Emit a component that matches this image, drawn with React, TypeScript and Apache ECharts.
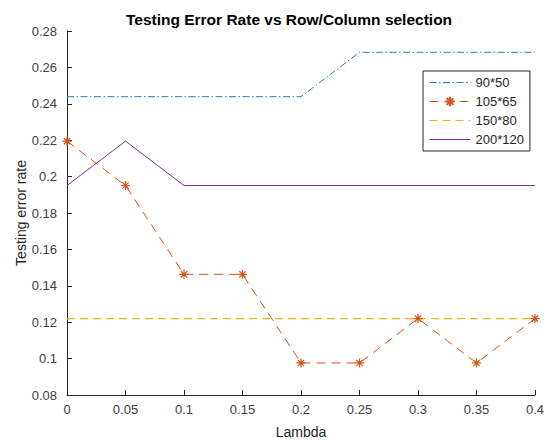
import React, { useEffect, useRef } from "react";
import * as echarts from "echarts";

const lambdas = [0, 0.05, 0.1, 0.15, 0.2, 0.25, 0.3, 0.35, 0.4];
const s90x50 = [0.2439, 0.2439, 0.2439, 0.2439, 0.2439, 0.2683, 0.2683, 0.2683, 0.2683];
const s105x65 = [0.2195, 0.1951, 0.1463, 0.1463, 0.0976, 0.0976, 0.122, 0.0976, 0.122];
const s150x80 = [0.122, 0.122, 0.122, 0.122, 0.122, 0.122, 0.122, 0.122, 0.122];
const s200x120 = [0.1951, 0.2195, 0.1951, 0.1951, 0.1951, 0.1951, 0.1951, 0.1951, 0.1951];
const seriesNames = ["90*50", "105*65", "150*80", "200*120"];

const pair = (ys: number[]) => lambdas.map((x, i) => [x, ys[i]]);

const AST = "path://M5,0 L5,10 M0,5 L10,5 M1.5,1.5 L8.5,8.5 M1.5,8.5 L8.5,1.5";
const FONT = "Liberation Sans, Arial, sans-serif";
const BLUE = "#1a82b4";
const ORANGE = "#D95319";
const YELLOW = "#EDB120";
const PURPLE = "#7E2F8E";

export default function App() {
  const ref = useRef<HTMLDivElement>(null);
  useEffect(() => {
    const chart = echarts.init(ref.current!, null, { renderer: "svg" });
    const hidden = { color: "transparent", borderColor: "transparent", borderWidth: 0 };
    chart.setOption({
      animation: false,
      backgroundColor: "#ffffff",
      textStyle: { fontFamily: FONT },
      title: {
        text: "Testing Error Rate vs Row/Column selection",
        left: 284,
        textAlign: "center",
        top: 6,
        textStyle: { fontFamily: FONT, fontSize: 15.5, fontWeight: "bold", color: "#000" },
      },
      grid: { left: 67, right: 15, top: 31, bottom: 45, outerBoundsMode: "none" },
      legend: {
        orient: "vertical",
        left: 423,
        top: 71,
        padding: [5, 6, 5, 6],
        itemWidth: 41,
        itemHeight: 12,
        itemGap: 6,
        borderColor: "#262626",
        borderWidth: 1,
        backgroundColor: "#fff",
        textStyle: { fontFamily: FONT, fontSize: 13, color: "#262626" },
        lineStyle: { width: 1 },
        data: [
          { name: seriesNames[0], itemStyle: hidden },
          { name: seriesNames[1] },
          { name: seriesNames[2], itemStyle: hidden },
          { name: seriesNames[3], itemStyle: hidden },
        ],
      },
      xAxis: {
        type: "value",
        min: 0,
        max: 0.4,
        interval: 0.05,
        name: "Lambda",
        nameLocation: "middle",
        nameGap: 30,
        nameMoveOverlap: false,
        nameTextStyle: { fontFamily: FONT, fontSize: 14, color: "#262626" },
        axisLine: { lineStyle: { color: "#262626", width: 1 } },
        axisTick: { inside: true, length: 5, lineStyle: { color: "#262626" } },
        axisLabel: { margin: 8, fontFamily: FONT, fontSize: 13, color: "#404040" },
        splitLine: { show: false },
      },
      yAxis: {
        type: "value",
        min: 0.08,
        max: 0.28,
        interval: 0.02,
        name: "Testing error rate",
        nameLocation: "middle",
        nameGap: 39,
        nameMoveOverlap: false,
        nameTextStyle: { fontFamily: FONT, fontSize: 14, color: "#262626" },
        axisLine: { show: true, lineStyle: { color: "#262626", width: 1 } },
        axisTick: { show: true, inside: true, length: 5, lineStyle: { color: "#262626" } },
        axisLabel: { margin: 10, fontFamily: FONT, fontSize: 13, color: "#404040" },
        splitLine: { show: false },
      },
      series: [
        {
          name: seriesNames[0],
          type: "line",
          data: pair(s90x50),
          symbol: "none",
          color: BLUE,
          lineStyle: { color: BLUE, width: 1, type: [7, 2.5, 1.5, 2.5] },
        },
        {
          name: seriesNames[1],
          type: "line",
          data: pair(s105x65),
          symbol: AST,
          symbolSize: 9,
          color: ORANGE,
          itemStyle: { color: ORANGE, borderColor: ORANGE, borderWidth: 1.2 },
          lineStyle: { color: ORANGE, width: 1, type: [9, 6] },
        },
        {
          name: seriesNames[2],
          type: "line",
          data: pair(s150x80),
          symbol: "none",
          color: YELLOW,
          lineStyle: { color: YELLOW, width: 1.2, type: [8, 5] },
        },
        {
          name: seriesNames[3],
          type: "line",
          data: pair(s200x120),
          symbol: "none",
          color: PURPLE,
          lineStyle: { color: PURPLE, width: 1 },
        },
      ],
    });
    return () => chart.dispose();
  }, []);
  return (
    <div
      ref={ref}
      style={{ position: "fixed", left: 0, top: 0, width: 550, height: 440 }}
    />
  );
}
